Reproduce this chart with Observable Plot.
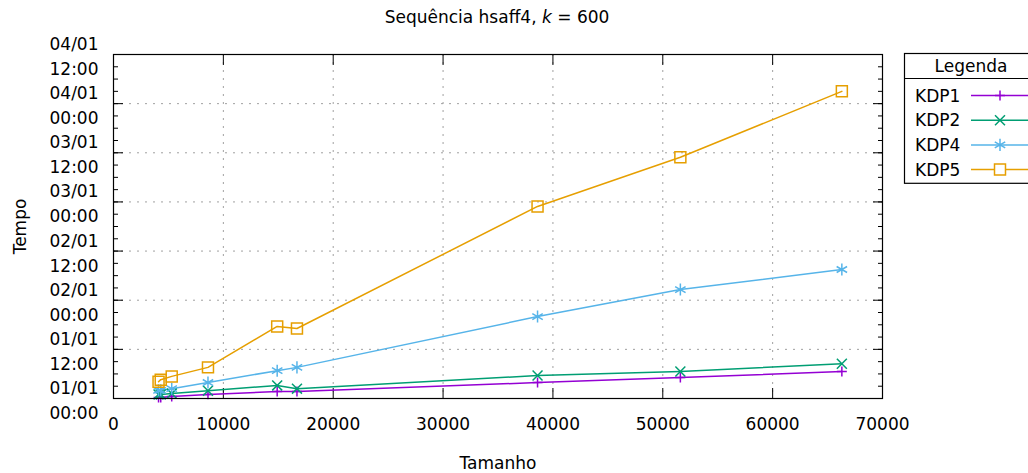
<!DOCTYPE html>
<html>
<head>
<meta charset="utf-8">
<script src="https://cdn.jsdelivr.net/npm/d3@7"></script>
<script src="https://cdn.jsdelivr.net/npm/@observablehq/plot@0.6"></script>
<style>
  body { margin: 0; background: #fff; }
  #wrap { position: relative; width: 1028px; height: 473px; overflow: hidden;
          font-family: "DejaVu Sans", sans-serif; color: #000; }
  #title { position: absolute; top: 7px; left: 0; width: 994px; text-align: center;
           font-size: 17px; line-height: 20px; }
  #wrap svg { position: absolute; top: 0; left: 0; }
</style>
</head>
<body>
<div id="wrap">
  <div id="title">Sequência hsaff4, <i>k</i> = 600</div>
</div>
<script>
// Sequence sizes (x) and running time in hours for each KDP variant
const sizes = [4100, 4300, 5300, 8600, 14900, 16700, 38600, 51600, 66300];
const kdp1  = [0.25, 0.25, 0.5, 1.0, 1.7, 1.7, 3.9, 5.1, 6.6];
const kdp2  = [1.0, 1.0, 1.2, 1.9, 3.2, 2.4, 5.6, 6.6, 8.5];
const kdp4  = [2.0, 2.0, 2.4, 3.9, 6.8, 7.6, 20.0, 26.6, 31.5];
const kdp5  = [4.1, 4.6, 5.4, 7.6, 17.6, 17.1, 46.9, 58.9, 75.0];

const seriesNames = ["KDP1", "KDP2", "KDP4", "KDP5"];
const seriesValues = [kdp1, kdp2, kdp4, kdp5];
const xTicks = [0, 10000, 20000, 30000, 40000, 50000, 60000, 70000];
const yRangeHours = [0, 84];

// styling
const colors  = ["#9400d3", "#009e73", "#56b4e9", "#e69f00"];
const symbols = ["plus", "times", "asterisk", "square"];
const markerR = [3.3, 4.6, 5.7, 6.2];
const d3Symbols = { plus: d3.symbolPlus, times: d3.symbolTimes, asterisk: d3.symbolAsterisk, square: d3.symbolSquare };

const t0 = Date.UTC(2000, 0, 1);
const toDate = h => new Date(t0 + h * 3600e3);

const rows = seriesNames.flatMap((name, i) =>
  sizes.map((s, j) => ({ name, size: s, tempo: toDate(seriesValues[i][j]) })));

const yDomain = yRangeHours.map(toDate);
const yMajor = d3.utcHours(yDomain[0], new Date(+yDomain[1] + 1), 12);
const yMinor = d3.utcHours(yDomain[0], new Date(+yDomain[1] + 1), 3);
const fmtDay = d3.utcFormat("%d/%m"), fmtTime = d3.utcFormat("%H:%M");

const gridStyle = { stroke: "#a0a0a0", strokeOpacity: 1, strokeDasharray: "2,6", strokeWidth: 1 };
const blank = () => "";

const chart = Plot.plot({
  width: 1028,
  height: 473,
  marginLeft: 113,
  marginRight: 146,
  marginTop: 54,
  marginBottom: 75,
  style: { fontFamily: "DejaVu Sans, sans-serif", fontSize: "17px", color: "#000", background: "transparent" },
  x: { domain: [0, 70000] },
  y: { type: "utc", domain: yDomain },
  color: { domain: seriesNames, range: colors },
  marks: [
    Plot.gridX({ ticks: xTicks, ...gridStyle }),
    Plot.gridY({ ticks: yMajor, ...gridStyle }),
    Plot.axisX({ ticks: xTicks, tickSize: -10, tickPadding: 29, tickFormat: d3.format("d"),
                 label: "Tamanho", labelAnchor: "center", labelOffset: 70, labelArrow: "none" }),
    Plot.axisX({ anchor: "top", ticks: xTicks, tickSize: -10, tickFormat: blank, label: null }),
    Plot.axisY({ ticks: yMajor, tickSize: -10, tickPadding: 25, lineHeight: 1.47,
                 tickFormat: d => fmtDay(d) + "\n" + fmtTime(d),
                 label: "Tempo", labelAnchor: "center", labelOffset: 100, labelArrow: "none" }),
    Plot.axisY({ ticks: yMinor, tickSize: -5, tickFormat: blank, label: null }),
    Plot.axisY({ anchor: "right", ticks: yMajor, tickSize: -10, tickFormat: blank, label: null }),
    Plot.axisY({ anchor: "right", ticks: yMinor, tickSize: -5, tickFormat: blank, label: null }),
    Plot.line(rows, { x: "size", y: "tempo", z: "name", stroke: "name", strokeWidth: 1.5 }),
    ...seriesNames.map((name, i) =>
      Plot.dot(rows.filter(d => d.name === name), {
        x: "size", y: "tempo", stroke: "name", fill: "none",
        symbol: symbols[i], r: markerR[i], strokeWidth: 1.5
      })),
    Plot.frame({ stroke: "#000", strokeWidth: 1.2 })
  ]
});
document.getElementById("wrap").appendChild(chart);

// Legend box on the right
const leg = d3.select("#wrap").append("svg")
  .attr("width", 1028).attr("height", 473)
  .style("font-family", "DejaVu Sans, sans-serif").style("font-size", "17px");
const box = { x: 904.5, y: 53.5, w: 200, header: 25, row: 24.7 };
leg.append("rect").attr("x", box.x).attr("y", box.y).attr("width", box.w)
  .attr("height", box.header + seriesNames.length * box.row + 6)
  .attr("fill", "#fff").attr("stroke", "#000").attr("stroke-width", 1.2);
leg.append("line").attr("x1", box.x).attr("x2", box.x + box.w)
  .attr("y1", box.y + box.header).attr("y2", box.y + box.header)
  .attr("stroke", "#000").attr("stroke-width", 1.2);
leg.append("text").attr("x", 971).attr("y", box.y + box.header / 2)
  .attr("text-anchor", "middle").attr("dominant-baseline", "central").text("Legenda");
seriesNames.forEach((name, i) => {
  const cy = box.y + box.header + 17 + i * box.row;
  const g = leg.append("g");
  g.append("text").attr("x", 915).attr("y", cy).attr("dominant-baseline", "central").text(name);
  g.append("line").attr("x1", 971).attr("x2", 1040).attr("y1", cy).attr("y2", cy)
    .attr("stroke", colors[i]).attr("stroke-width", 1.5);
  g.append("path")
    .attr("d", d3.symbol(d3Symbols[symbols[i]], Math.PI * markerR[i] * markerR[i])())
    .attr("transform", `translate(1000,${cy})`)
    .attr("fill", symbols[i] === "square" ? "#fff" : "none")
    .attr("stroke", colors[i]).attr("stroke-width", 1.5);
});
</script>
</body>
</html>
